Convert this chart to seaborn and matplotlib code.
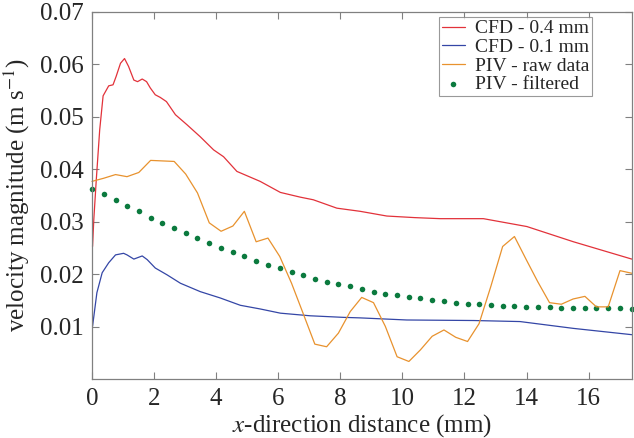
import matplotlib
matplotlib.use("Agg")
import matplotlib.pyplot as plt
import seaborn as sns

# CFD - 0.4 mm
cfd04_x = [0.02, 0.06, 0.14, 0.25, 0.36, 0.54, 0.68, 0.78, 0.92, 1.05, 1.18, 1.35, 1.47, 1.62,
           1.76, 1.88, 2.04, 2.20, 2.40, 2.69, 3.06, 3.49, 3.92, 4.24, 4.67, 5.42,
           6.07, 6.71, 7.13, 7.89, 8.64, 9.50, 10.40, 11.22, 12.61, 14.01, 15.51, 17.39]
cfd04_y = [0.0253, 0.0304, 0.0380, 0.0475, 0.0540, 0.0559, 0.0561, 0.0577, 0.0602, 0.0611,
           0.0596, 0.0570, 0.0567, 0.0572, 0.0567, 0.0555, 0.0542, 0.0537, 0.0529, 0.0504,
           0.0485, 0.0462, 0.0437, 0.0424, 0.0396, 0.0377, 0.0356, 0.0347, 0.0342, 0.0326,
           0.0320, 0.0311, 0.0308, 0.0306, 0.0306, 0.0291, 0.0262, 0.0229]

# CFD - 0.1 mm
cfd01_x = [0.02, 0.16, 0.33, 0.54, 0.76, 1.02, 1.13, 1.35, 1.62, 1.78, 2.04, 2.42,
           2.85, 3.49, 4.13, 4.78, 5.42, 6.07, 7.03, 8.10, 8.64, 10.14, 12.29, 13.79,
           15.51, 17.39]
cfd01_y = [0.0101, 0.0165, 0.0203, 0.0222, 0.0237, 0.0240, 0.0237, 0.0229, 0.0235,
           0.0228, 0.0212, 0.0199, 0.0183, 0.0167, 0.0155, 0.0141, 0.0134, 0.0126, 0.0121,
           0.0118, 0.0117, 0.0113, 0.0112, 0.0110, 0.0097, 0.0085]

# PIV grid (raw + filtered share positions)
piv_x = [0.0, 0.38, 0.76, 1.13, 1.51, 1.89, 2.27, 2.65, 3.02, 3.40, 3.78, 4.16, 4.54,
         4.91, 5.29, 5.67, 6.05, 6.43, 6.80, 7.18, 7.56, 7.94, 8.32, 8.69, 9.07, 9.45,
         9.83, 10.21, 10.58, 10.96, 11.34, 11.72, 12.10, 12.47, 12.85, 13.23, 13.61,
         13.99, 14.36, 14.74, 15.12, 15.50, 15.88, 16.25, 16.63, 17.01, 17.39]
piv_raw = [0.0377, 0.0383, 0.0390, 0.0386, 0.0394, 0.0417, 0.0416, 0.0415, 0.0391, 0.0355,
           0.0298, 0.0282, 0.0292, 0.0320, 0.0262, 0.0269, 0.0234, 0.0183, 0.0126, 0.0067,
           0.0062, 0.0088, 0.0129, 0.0156, 0.0146, 0.0101, 0.0043, 0.0034, 0.0056, 0.0082,
           0.0094, 0.0080, 0.0072, 0.0106, 0.0177, 0.0253, 0.0272, 0.0228, 0.0186, 0.0146,
           0.0143, 0.0153, 0.0158, 0.0138, 0.0138, 0.0207, 0.0202]
piv_filt = [0.0363, 0.0353, 0.0341, 0.0330, 0.0320, 0.0308, 0.0298, 0.0288, 0.0278, 0.0269,
            0.0259, 0.0250, 0.0242, 0.0234, 0.0226, 0.0218, 0.0212, 0.0205, 0.0198, 0.0192,
            0.0186, 0.0181, 0.0177, 0.0172, 0.0167, 0.0163, 0.0160, 0.0157, 0.0154, 0.0151,
            0.0149, 0.0146, 0.0144, 0.0143, 0.0141, 0.0140, 0.0139, 0.0138, 0.0138, 0.0137,
            0.0136, 0.0136, 0.0136, 0.0136, 0.0135, 0.0135, 0.0134]

x_ticks = [0, 2, 4, 6, 8, 10, 12, 14, 16]
y_ticks = [0.01, 0.02, 0.03, 0.04, 0.05, 0.06, 0.07]

sns.set_style("ticks")
plt.rcParams['font.family'] = ['Liberation Serif', 'DejaVu Serif']
plt.rcParams['mathtext.fontset'] = 'stix'

fig = plt.figure(figsize=(6.34, 4.38), dpi=100)
ax = fig.add_axes([0.145, 0.134, 0.852, 0.839])

sns.lineplot(x=cfd04_x, y=cfd04_y, ax=ax, color='#e2323a', lw=0.9,
             label='CFD - 0.4 mm', sort=False, clip_on=False)
sns.lineplot(x=cfd01_x, y=cfd01_y, ax=ax, color='#3446a6', lw=0.9,
             label='CFD - 0.1 mm', sort=False, clip_on=False)
sns.lineplot(x=piv_x, y=piv_raw, ax=ax, color='#e8922e', lw=0.9,
             label='PIV - raw data', sort=False, clip_on=False)
sns.scatterplot(x=piv_x, y=piv_filt, ax=ax, color='#0b7a3e', s=16, linewidth=0,
                label='PIV - filtered', clip_on=False)

ax.set_xlim(0, 17.4)
ax.set_ylim(0, 0.07)
ax.set_xticks(x_ticks)
ax.set_yticks(y_ticks)
ax.set_xticklabels([str(t) for t in x_ticks])
ax.set_yticklabels(['%.2f' % t for t in y_ticks])
ax.tick_params(direction='in', top=True, right=True, length=5, width=0.8,
               color='#808080', labelsize=18, pad=6)
for s in ax.spines.values():
    s.set_color('#808080')
    s.set_linewidth(0.9)

ax.set_xlabel(r'$x$-direction distance (mm)', fontsize=18, labelpad=2)
ax.set_ylabel(r'velocity magnitude (m s$^{-1}$)', fontsize=18, labelpad=6)

leg = ax.legend(loc='upper right', fontsize=14, frameon=True, fancybox=False,
                handlelength=1.2, handletextpad=0.5, borderpad=0.15,
                labelspacing=0.05, borderaxespad=0.0, bbox_to_anchor=(0.926, 0.986))
leg.get_frame().set_edgecolor('#808080')
leg.get_frame().set_linewidth(0.8)

fig.savefig('out.png', dpi=100)
